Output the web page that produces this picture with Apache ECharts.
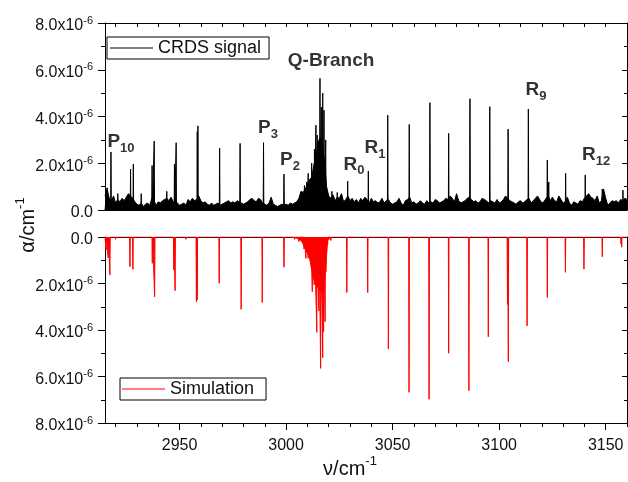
<!DOCTYPE html>
<html>
<head>
<meta charset="utf-8">
<script src="https://cdn.jsdelivr.net/npm/echarts@6/dist/echarts.min.js"></script>
<style>
  html, body { margin: 0; padding: 0; background: #fff; }
  #chart { width: 628px; height: 482px; }
</style>
</head>
<body>
<div id="chart"></div>
<script>
// wavenumber range, cm^-1
var xMin = 2915, xMax = 3160;
var xMajorTicks = [2950, 3000, 3050, 3100, 3150];
var xMinorTicks = [2920, 2930, 2940, 2960, 2970, 2980, 2990, 3010, 3020, 3030, 3040,
  3060, 3070, 3080, 3090, 3110, 3120, 3130, 3140, 3160];
var xAllTicks = [2920, 2930, 2940, 2950, 2960, 2970, 2980, 2990, 3000, 3010, 3020, 3030,
  3040, 3050, 3060, 3070, 3080, 3090, 3100, 3110, 3120, 3130, 3140, 3150, 3160];

// absorption in units of 1e-6 cm^-1
// CRDS background, one value per cm^-1 starting at 2915
var noiseStart = 2915;
var crdsNoise = [
  0.6, 0.9, 0.5, 0.4, 0.6, 0.3, 0.45, 0.35, 0.5, 0.4,
  0.55, 0.7, 0.6, 0.5, 0.35, 0.25, 0.2, 0.3, 0.15, 0.25,
  0.3, 0.2, 0.5, 0.4, 0.2, 0.35, 0.3, 0.4, 0.45, 0.5,
  0.4, 0.55, 0.35, 0.4, 0.3, 0.2, 0.25, 0.3, 0.2, 0.45,
  0.35, 0.5, 0.4, 0.45, 0.6, 0.4, 0.3, 0.35, 0.25, 0.2,
  0.3, 0.2, 0.25, 0.3, 0.2, 0.25, 0.3, 0.35, 0.4, 0.3,
  0.35, 0.3, 0.4, 0.35, 0.3, 0.25, 0.3, 0.35, 0.45, 0.5,
  0.4, 0.35, 0.5, 0.45, 0.3, 0.25, 0.2, 0.3, 0.55, 0.25,
  0.2, 0.15, 0.2, 0.25, 0.2, 0.25, 0.2, 0.3, 0.25, 0.3,
  0.35, 0.5, 0.8, 0.75, 0.9, 1.1, 1.3, 1.4, 1.9, 2.3,
  2.9, 3.1, 2.7, 2.1, 1.0, 0.6, 0.5, 0.65, 0.4, 0.55,
  0.5, 0.7, 0.35, 0.45, 0.6, 0.4, 0.5, 0.35, 0.45, 0.3,
  0.5, 0.4, 0.55, 0.45, 0.3, 0.5, 0.35, 0.4, 0.3, 0.35,
  0.5, 0.3, 0.4, 0.45, 0.3, 0.25, 0.3, 0.35, 0.5, 0.3,
  0.2, 0.4, 0.45, 0.55, 0.3, 0.35, 0.25, 0.3, 0.4, 0.3,
  0.25, 0.4, 0.3, 0.35, 0.3, 0.45, 0.4, 0.3, 0.35, 0.4,
  0.5, 0.45, 0.6, 0.5, 0.35, 0.7, 0.4, 0.3, 0.35, 0.4,
  0.5, 0.55, 0.45, 0.35, 0.4, 0.3, 0.35, 0.5, 0.45, 0.4,
  0.3, 0.4, 0.35, 0.3, 0.45, 0.3, 0.35, 0.45, 0.6, 0.5,
  0.4, 0.35, 0.3, 0.25, 0.35, 0.4, 0.3, 0.35, 0.45, 0.5,
  0.3, 0.4, 0.5, 0.6, 0.45, 0.3, 0.35, 0.5, 0.6, 0.4,
  0.55, 0.4, 0.35, 0.6, 0.45, 0.3, 0.35, 0.55, 0.3, 0.2,
  0.35, 0.3, 0.25, 0.4, 0.35, 0.5, 0.6, 0.7, 0.55, 0.5,
  0.4, 0.6, 0.3, 0.4, 0.9, 0.5, 0.2, 0.3, 0.4, 0.35,
  0.4, 0.3, 0.45, 0.4, 0.5, 0.45
];

// CRDS lines
var crdsLineX = [2916.0, 2917.8, 2921.0, 2927.0, 2928.3, 2932.0, 2937.1, 2938.1, 2944.0, 2947.6, 2948.4,
  2958.3, 2958.6, 2968.8, 2978.4, 2989.4, 2999.0,
  3008.6, 3009.7, 3010.4, 3012.0, 3013.3, 3014.0, 3014.6, 3015.9, 3016.5, 3017.2, 3017.8, 3018.6,
  3021.5, 3024.0, 3028.9, 3038.6, 3047.7, 3057.8, 3067.5, 3076.3, 3086.3, 3095.6, 3104.2, 3113.7,
  3122.6, 3123.3, 3131.2, 3140.4, 3148.4, 3158.1];
var crdsLineY = [0.95, 2.48, 0.7, 1.75, 1.97, 0.7, 1.9, 2.95, 0.8, 1.97, 2.88,
  3.35, 3.6, 2.65, 2.85, 2.88, 1.54,
  1.05, 1.2, 1.57, 2.0, 2.6, 3.63, 3.2, 5.63, 4.4, 5.0, 4.27, 3.0,
  0.8, 0.75, 1.24, 1.67, 4.06, 3.66, 4.59, 3.28, 4.76, 4.42, 3.46, 4.32,
  2.14, 1.2, 1.57, 1.5, 0.9, 0.85];

// simulated lines
var simLineX = [2915.5, 2916.5, 2917.3, 2920.0, 2926.7, 2928.1, 2931.0, 2937.2, 2938.3, 2943.0, 2947.3, 2947.9,
  2953.0, 2957.9, 2958.3, 2968.6, 2978.9, 2986.0, 2988.8, 2999.0, 3004.0, 3006.0,
  3008.4, 3009.3, 3010.4, 3011.5, 3012.3, 3013.2, 3014.4, 3015.4, 3016.2, 3017.2, 3017.6, 3018.3, 3018.7,
  3019.5, 3021.0, 3028.5, 3038.3, 3048.0, 3057.7, 3067.1, 3076.3, 3085.8, 3094.9, 3103.9, 3104.3,
  3113.1, 3122.6, 3131.1, 3139.8, 3148.4, 3157.2, 3157.5];
var simLineY = [0.56, 0.9, 1.63, 0.1, 1.28, 1.39, 0.05, 1.13, 2.57, 0.08, 1.42, 2.31,
  0.1, 2.78, 2.7, 1.99, 3.11, 0.05, 2.82, 1.3, 0.1, 0.2,
  0.52, 0.92, 0.92, 0.92, 2.35, 2.06, 4.1, 3.18, 5.65, 5.19, 4.07, 3.64, 1.49,
  0.3, 0.15, 2.39, 2.39, 4.82, 6.68, 6.98, 5.0, 6.61, 4.29, 2.9, 5.36,
  3.82, 2.6, 1.52, 1.38, 0.85, 0.3, 0.44];

// simulated Q-branch envelope
var simQFloorX = [3003, 3005, 3006, 3007, 3008, 3009, 3010, 3011, 3012, 3013, 3014, 3015, 3016, 3017, 3018, 3018.8, 3019.5, 3021];
var simQFloorY = [0.02, 0.05, 0.1, 0.15, 0.3, 0.5, 0.7, 0.9, 1.4, 1.8, 2.0, 2.2, 2.3, 2.4, 2.0, 1.0, 0.15, 0.02];

// band annotations
var annText = ['P', 'P', 'P', 'Q-Branch', 'R', 'R', 'R', 'R'];
var annSub = ['10', '3', '2', '', '0', '1', '9', '12'];
var annX = [2922.5, 2991.5, 3001.8, 3021.1, 3031.9, 3041.7, 3117.3, 3145.5];
var annY = [2.9, 3.5, 2.14, 6.37, 1.93, 2.65, 5.13, 2.35];

var FONT = 'Liberation Sans, Arial, sans-serif';

function sticks(xs, ys) {
  var pts = [[xMin, 0]];
  for (var i = 0; i < xs.length; i++) {
    pts.push([xs[i] - 0.15, 0], [xs[i], ys[i]], [xs[i] + 0.15, 0]);
  }
  pts.push([xMax, 0]);
  return pts;
}

var noiseData = crdsNoise.map(function (v, i) { return [noiseStart + i, v]; });
var simFloor = simQFloorX.map(function (x, i) { return [x, simQFloorY[i]]; });
var annData = annX.map(function (x, i) {
  var txt = '{b|' + annText[i] + '}' + (annSub[i] ? '{s|' + annSub[i] + '}' : '');
  return { value: [x, annY[i]], label: { formatter: txt } };
});

var tickRich = {
  a: { fontSize: 16, lineHeight: 16, padding: [3, 0, 0, 0], verticalAlign: 'top', color: '#111', fontFamily: FONT },
  e: { fontSize: 11, lineHeight: 11, verticalAlign: 'top', color: '#111', fontFamily: FONT }
};
function yLabel(v) {
  return v === 0 ? '{a|0.0}' : '{a|' + v.toFixed(1) + 'x10}{e|-6}';
}

function yLeft(grid, inverse) {
  return {
    type: 'value', gridIndex: grid, position: 'left', inverse: inverse,
    min: 0, max: 8, interval: 2,
    axisLine: { show: true, lineStyle: { color: '#000', width: 1 } },
    axisTick: { show: true, length: 7, lineStyle: { color: '#000' } },
    minorTick: { show: true, splitNumber: 2, length: 4, lineStyle: { color: '#000' } },
    axisLabel: { margin: 12, formatter: yLabel, rich: tickRich },
    splitLine: { show: false }
  };
}
function yRight(grid, inverse) {
  return {
    type: 'value', gridIndex: grid, position: 'right', inverse: inverse,
    min: 0, max: 8, interval: 2,
    axisLine: { show: true, lineStyle: { color: '#000', width: 1 } },
    axisTick: { show: true, inside: true, length: 5, lineStyle: { color: '#000' } },
    minorTick: { show: true, splitNumber: 2, length: 3, lineStyle: { color: '#000' } },
    axisLabel: { show: false },
    splitLine: { show: false }
  };
}
function xBase(grid, pos) {
  return {
    type: 'value', gridIndex: grid, position: pos, min: xMin, max: xMax,
    axisLine: { show: true, onZero: false, lineStyle: { color: '#000', width: 1 } },
    axisTick: { show: false },
    axisLabel: { show: false },
    splitLine: { show: false }
  };
}

var xTop0 = xBase(0, 'bottom');
var xTop1 = xBase(0, 'top');
xTop1.axisTick = { show: true, inside: true, length: 4, customValues: xAllTicks, lineStyle: { color: '#000' } };
var xBot0 = xBase(1, 'bottom');
xBot0.axisTick = { show: true, length: 7, customValues: xMajorTicks, lineStyle: { color: '#000' } };
xBot0.axisLabel = {
  show: true, margin: 15, customValues: xMajorTicks, fontSize: 16, color: '#111', fontFamily: FONT,
  formatter: function (v) { return String(v); }
};
var xBot1 = xBase(1, 'bottom');
xBot1.axisLine = { show: false, onZero: false };
xBot1.axisTick = { show: true, length: 4, customValues: xMinorTicks, lineStyle: { color: '#000' } };
var xBot2 = xBase(1, 'top');

var legendBase = {
  orient: 'vertical', borderColor: '#000', borderWidth: 1, borderRadius: 0,
  itemWidth: 43, itemHeight: 13, selectedMode: false,
  icon: 'path://M0,0H43V1H0Z',
  textStyle: { fontSize: 18, color: '#111', fontFamily: FONT }
};

var chart = echarts.init(document.getElementById('chart'));
chart.setOption({
  animation: false,
  backgroundColor: '#fff',
  textStyle: { fontFamily: FONT },
  grid: [
    { left: 105, right: 1, top: 23, height: 187 },
    { left: 105, right: 1, top: 237, height: 186 }
  ],
  xAxis: [xTop0, xTop1, xBot0, xBot1, xBot2],
  yAxis: [yLeft(0, false), yRight(0, false), yLeft(1, true), yRight(1, true)],
  legend: [
    Object.assign({}, legendBase, { data: ['CRDS signal'], left: 107, top: 37, padding: [2, 8, 2, 3] }),
    Object.assign({}, legendBase, { data: ['Simulation'], left: 120, top: 378, padding: [2, 12, 2, 2] })
  ],
  graphic: [
    {
      type: 'text', x: 24, y: 225, rotation: Math.PI / 2,
      style: {
        text: '{a|α/cm}{e|-1}', align: 'center', verticalAlign: 'middle',
        rich: {
          a: { fontSize: 20, lineHeight: 20, padding: [4, 0, 0, 0], verticalAlign: 'top', fill: '#111', fontFamily: FONT },
          e: { fontSize: 13, lineHeight: 13, verticalAlign: 'top', fill: '#111', fontFamily: FONT }
        }
      }
    },
    {
      type: 'text', x: 350, y: 465,
      style: {
        text: '{a|ν/cm}{e|-1}', align: 'center', verticalAlign: 'middle',
        rich: {
          a: { fontSize: 20, lineHeight: 20, padding: [4, 0, 0, 0], verticalAlign: 'top', fill: '#111', fontFamily: FONT },
          e: { fontSize: 13, lineHeight: 13, verticalAlign: 'top', fill: '#111', fontFamily: FONT }
        }
      }
    }
  ],
  series: [
    {
      name: 'CRDS signal', type: 'line', xAxisIndex: 0, yAxisIndex: 0,
      data: noiseData, symbol: 'none', silent: true,
      lineStyle: { color: '#000', width: 1 }, itemStyle: { color: '#000' },
      areaStyle: { color: '#000', opacity: 1 }
    },
    {
      name: 'CRDS signal', type: 'line', xAxisIndex: 0, yAxisIndex: 0,
      data: sticks(crdsLineX, crdsLineY), symbol: 'none', silent: true,
      lineStyle: { color: '#000', width: 1 }, itemStyle: { color: '#000' },
      areaStyle: { color: '#000', opacity: 1 }
    },
    {
      name: 'Simulation', type: 'line', xAxisIndex: 2, yAxisIndex: 2,
      data: sticks(simLineX, simLineY), symbol: 'none', silent: true,
      lineStyle: { color: '#ff0000', width: 1 }, itemStyle: { color: '#ff0000' },
      areaStyle: { color: '#ff0000', opacity: 1 }
    },
    {
      name: 'Simulation', type: 'line', xAxisIndex: 2, yAxisIndex: 2,
      data: simFloor, symbol: 'none', silent: true,
      lineStyle: { color: '#ff0000', width: 1 }, itemStyle: { color: '#ff0000' },
      areaStyle: { color: '#ff0000', opacity: 1 }
    },
    {
      name: 'labels', type: 'scatter', xAxisIndex: 0, yAxisIndex: 0,
      data: annData, symbolSize: 1, silent: true, z: 10,
      itemStyle: { color: 'rgba(0,0,0,0)' },
      label: {
        show: true, position: 'inside',
        rich: {
          b: { fontSize: 19, fontWeight: 'bold', lineHeight: 19, verticalAlign: 'top', color: '#000', fontFamily: FONT },
          s: { fontSize: 13, fontWeight: 'bold', lineHeight: 13, padding: [9, 0, 0, 0], verticalAlign: 'top', color: '#000', fontFamily: FONT }
        }
      }
    }
  ]
});
</script>
</body>
</html>
